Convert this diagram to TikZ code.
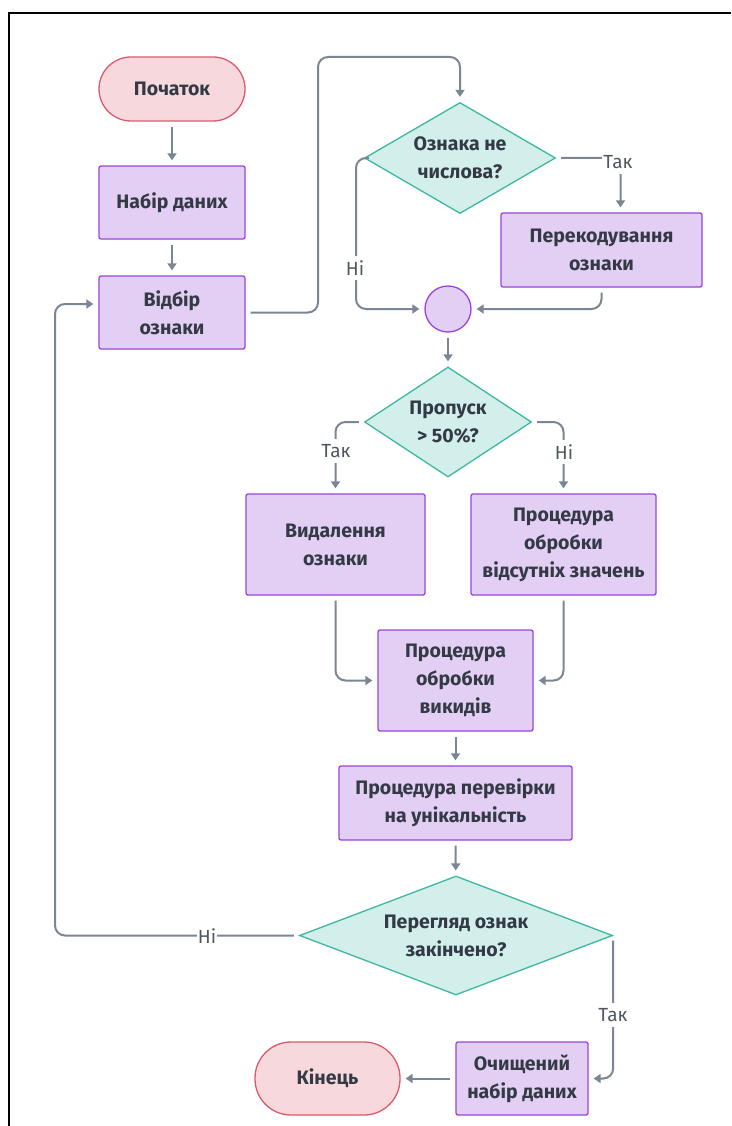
\documentclass[tikz,border=0pt]{standalone}
\usepackage{fontspec}
\setmainfont{Fira Sans}
\usetikzlibrary{shapes.geometric,arrows.meta}

\definecolor{procfill}{HTML}{E3CEF4}
\definecolor{procdraw}{HTML}{9A44DC}
\definecolor{decfill}{HTML}{D2EFEC}
\definecolor{decdraw}{HTML}{3DB7A3}
\definecolor{termfill}{HTML}{F7D9DD}
\definecolor{termdraw}{HTML}{DA5A6E}
\definecolor{linec}{HTML}{7B8694}
\definecolor{txt}{HTML}{333A45}
\definecolor{labtxt}{HTML}{505760}

\begin{document}
\begin{tikzpicture}[x=1pt,y=-1pt,
  boxtext/.style={align=center, text=txt, font=\bfseries\fontsize{19.5pt}{28pt}\selectfont},
  proc/.style={boxtext, draw=procdraw, fill=procfill, line width=1.3pt, rounded corners=2pt, inner sep=0pt},
  term/.style={boxtext, draw=termdraw, fill=termfill, line width=1.3pt, rounded corners=32pt, inner sep=0pt},
  dec/.style={boxtext, diamond, draw=decdraw, fill=decfill, line width=1.3pt, inner sep=0pt},
  junct/.style={circle, draw=procdraw, fill=procfill, line width=1.3pt, minimum size=46pt, inner sep=0pt},
  conn/.style={draw=linec, line width=2pt, rounded corners=10pt, shorten <=5pt, shorten >=5pt,
    -{Triangle[length=7pt,width=9pt]}},
  lab/.style={fill=white, text=labtxt, inner xsep=1pt, inner ysep=5pt, font=\fontsize{19pt}{20pt}\selectfont}
]
\useasboundingbox (0,0) rectangle (731,1126);
\fill[white] (0,0) rectangle (731,1126);
% outer frame
\draw[line width=2pt, black] (9,1126) -- (9,13) -- (731,13);

% nodes
\node[term, minimum width=146pt, minimum height=64pt] (start) at (172,89) {Початок};
\node[proc, minimum width=146pt, minimum height=73pt] (data) at (172,202.5) {Набір даних};
\node[proc, minimum width=146pt, minimum height=73pt] (sel) at (172,312.5) {Відбір\\ознаки};
\node[dec, minimum width=191pt, minimum height=111pt, aspect=1.72] (d1) at (460,158) {Ознака не\\числова?};
\node[proc, minimum width=201pt, minimum height=74pt] (recode) at (601.5,250) {Перекодування\\ознаки};
\node[junct] (jn) at (448,309) {};
\node[dec, minimum width=167pt, minimum height=110pt, aspect=1.52] (d2) at (448,422) {Пропуск\\> 50\%?};
\node[proc, minimum width=179pt, minimum height=101pt] (del) at (335.5,544.5) {Видалення\\ознаки};
\node[proc, minimum width=185pt, minimum height=101pt] (miss) at (563.5,544.5) {Процедура\\обробки\\відсутніх значень};
\node[proc, minimum width=155pt, minimum height=101pt] (outl) at (455.5,680.5) {Процедура\\обробки\\викидів};
\node[proc, minimum width=233pt, minimum height=74pt] (uniq) at (455.5,803) {Процедура перевірки\\на унікальність};
\node[dec, minimum width=313pt, minimum height=119pt, aspect=2.63] (d3) at (456,935.5) {Перегляд ознак\\закінчено?};
\node[proc, minimum width=132pt, minimum height=73pt] (clean) at (522,1078.5) {Очищений\\набір даних};
\node[term, minimum width=145pt, minimum height=73pt, rounded corners=36pt] (fin) at (327.5,1078.5) {Кінець};

% connectors
\draw[conn] (start) -- (data);
\draw[conn] (data) -- (sel);
\draw[conn] (sel.east) -- (318,312.5) -- (318,57) -- (460,57) -- (d1.north);
\draw[conn] (d1.east) -| ([xshift=19pt]recode.north);
\node[lab] at (618,162) {Так};
\draw[conn] (d1.west) -- (356,158) -- (356,309) -- (jn.west);
\node[lab] at (355,268) {Ні};
\draw[conn] (recode.south) |- (jn.east);
\draw[conn] (jn) -- (d2);
\draw[conn] (d2.west) -| (del.north);
\node[lab] at (336,451) {Так};
\draw[conn] (d2.east) -| (miss.north);
\node[lab] at (564,452) {Ні};
\draw[conn] (del.south) |- (outl.west);
\draw[conn] (miss.south) |- (outl.east);
\draw[conn] (outl) -- (uniq);
\draw[conn] (uniq) -- (d3);
\draw[conn] (d3.west) -- (55,935.5) -- (55,304) -- ([yshift=8.5pt]sel.west);
\node[lab] at (207,936) {Ні};
\draw[conn] (d3.east) |- (clean.east);
\node[lab] at (613,1015) {Так};
\draw[conn] (clean) -- (fin);
\end{tikzpicture}
\end{document}
